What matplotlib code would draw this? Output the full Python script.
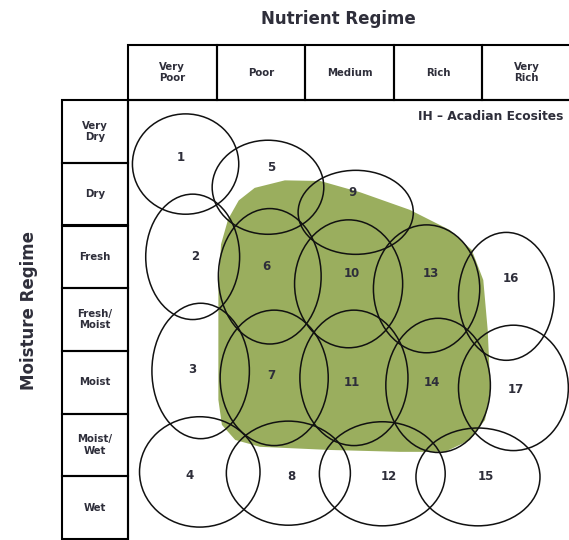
import matplotlib.pyplot as plt
from matplotlib.patches import Ellipse, Polygon, Rectangle

plt.rcParams['font.family'] = ['DejaVu Sans']

nutrient = ['Very\nPoor', 'Poor', 'Medium', 'Rich', 'Very\nRich']
moisture = ['Very\nDry', 'Dry', 'Fresh', 'Fresh/\nMoist', 'Moist', 'Moist/\nWet', 'Wet']

# ecosites: ellipse centres and half-widths in nutrient / moisture units
site_ids = [1, 5, 9, 2, 6, 10, 13, 16, 3, 7, 11, 14, 17, 4, 8, 12, 15]
site_x = [0.65, 1.58, 2.57, 0.73, 1.60, 2.49, 3.37, 4.27, 0.82, 1.65, 2.55, 3.50, 4.35, 0.81, 1.81, 2.87, 3.95]
site_y = [1.02, 1.39, 1.79, 2.50, 2.81, 2.93, 3.01, 3.13, 4.32, 4.43, 4.43, 4.55, 4.59, 5.93, 5.95, 5.96, 6.01]
site_rx = [0.60, 0.63, 0.65, 0.53, 0.58, 0.61, 0.60, 0.54, 0.55, 0.61, 0.61, 0.59, 0.62, 0.68, 0.70, 0.71, 0.70]
site_ry = [0.80, 0.75, 0.67, 1.00, 1.08, 1.02, 1.02, 1.02, 1.08, 1.08, 1.08, 1.07, 1.00, 0.88, 0.83, 0.83, 0.78]
label_x = [0.60, 1.62, 2.53, 0.76, 1.56, 2.53, 3.42, 4.32, 0.72, 1.62, 2.53, 3.43, 4.38, 0.69, 1.84, 2.94, 4.04]
label_y = [0.91, 1.07, 1.48, 2.50, 2.65, 2.76, 2.76, 2.84, 4.29, 4.40, 4.51, 4.51, 4.62, 5.98, 6.00, 6.00, 6.00]

# Acadian ecosites region outline
blob_x = [1.02, 1.02, 1.05, 1.13, 1.25, 1.43, 1.77, 2.17, 2.62, 3.18, 3.63, 3.88, 4.01, 4.06, 4.09,
          4.03, 3.86, 3.58, 3.07, 2.28, 1.49, 1.21, 1.06]
blob_y = [4.78, 3.03, 2.30, 1.90, 1.60, 1.40, 1.28, 1.29, 1.47, 1.75, 2.07, 2.39, 2.87, 3.67, 4.63,
          5.10, 5.42, 5.61, 5.61, 5.58, 5.53, 5.42, 5.18]

txt = '#2e2e3a'
fig = plt.figure(figsize=(5.69, 5.40), dpi=100)
ax = fig.add_axes([128 / 569, 1 - 539 / 540, 5 / 569 * 88.6, 7 / 540 * 62.7])
ax.set_xlim(0, 5)
ax.set_ylim(7, 0)
ax.axis('off')

# header row and left column
head_top = -0.877
left_edge = -0.745
for i, name in enumerate(nutrient):
    ax.add_patch(Rectangle((i, head_top), 1, -head_top, fill=False, lw=1.5, ec='black', clip_on=False))
    ax.text(i + 0.5, head_top / 2, name, ha='center', va='center', fontsize=7.3,
            fontweight='bold', color=txt, linespacing=1.15)
for j, name in enumerate(moisture):
    ax.add_patch(Rectangle((left_edge, j), -left_edge, 1, fill=False, lw=1.5, ec='black', clip_on=False))
    ax.text(left_edge / 2, j + 0.5, name, ha='center', va='center', fontsize=7.3,
            fontweight='bold', color=txt, linespacing=1.15)
ax.plot([0, 0], [0, 7], color='black', lw=1.5, clip_on=False)
ax.plot([0, 5], [0, 0], color='black', lw=1.5, clip_on=False)

ax.text(2.37, -1.3, 'Nutrient Regime', ha='center', va='center', fontsize=12,
        fontweight='bold', color=txt)
ax.text(-1.12, 3.35, 'Moisture Regime', ha='center', va='center', fontsize=12,
        fontweight='bold', color=txt, rotation=90)
ax.text(4.91, 0.26, 'IH \u2013 Acadian Ecosites', ha='right', va='center', fontsize=8.8,
        fontweight='bold', color=txt)

ax.add_patch(Polygon(list(zip(blob_x, blob_y)), closed=True, fc='#9aae5e', ec='none', zorder=1,
                     joinstyle='round'))

for k in range(len(site_ids)):
    ax.add_patch(Ellipse((site_x[k], site_y[k]), 2 * site_rx[k], 2 * site_ry[k], fill=False,
                         ec='#111111', lw=1.1, zorder=2))
    ax.text(label_x[k], label_y[k], str(site_ids[k]), ha='center', va='center', fontsize=8.5,
            fontweight='bold', color=txt, zorder=3)

fig.savefig('out.png', dpi=100)
